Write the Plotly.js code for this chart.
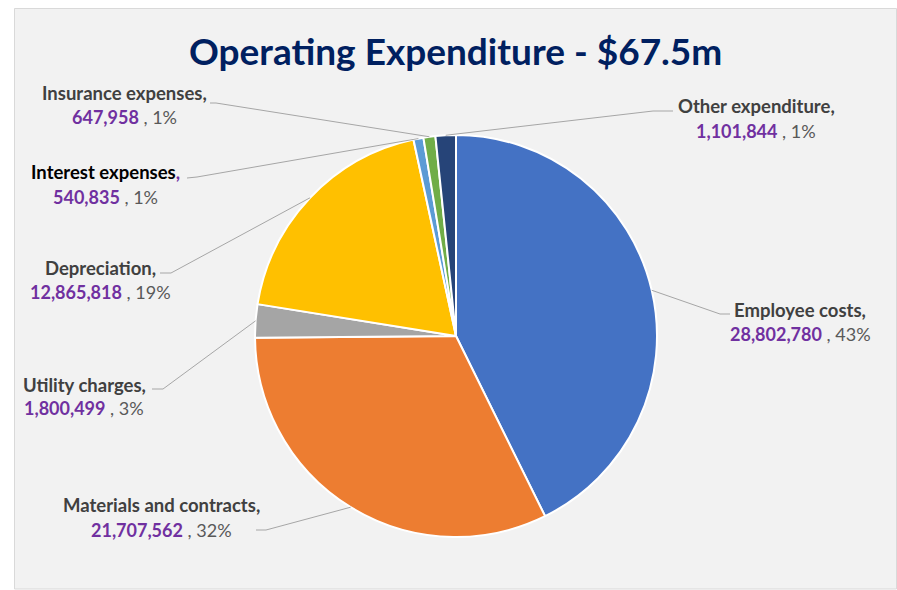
<!DOCTYPE html>
<html>
<head>
<meta charset="utf-8">
<script src="https://cdn.plot.ly/plotly-3.0.1.min.js"></script>
<style>html,body{margin:0;padding:0;background:#fff;}#chart{width:897px;height:590px;}</style>
</head>
<body>
<div id="chart"></div>
<script>
// ---- data ----
const categories = ["Employee costs", "Materials and contracts", "Utility charges", "Depreciation", "Interest expenses", "Insurance expenses", "Other expenditure"];
const values = [28802780, 21707562, 1800499, 12865818, 540835, 647958, 1101844];
const valueLabels = ["28,802,780", "21,707,562", "1,800,499", "12,865,818", "540,835", "647,958", "1,101,844"];
const percentLabels = ["43%", "32%", "3%", "19%", "1%", "1%", "1%"];
const titleText = "Operating Expenditure - $67.5m";

// ---- style / layout ----
const colors = ["#4472C4", "#ED7D31", "#A5A5A5", "#FFC000", "#5B9BD5", "#70AD47", "#264478"];
const W = 897, H = 590;
const CX = 456, CY = 336, R = 201;
const FONT = "Lato, 'Open Sans', sans-serif";
// label placement: centre x, line1 y, line2 y, leader elbow and end (pixels)
const labelPos = [
  {x: 800, y1: 310, y2: 334, elbow: [720, 314], end: [730, 314]},
  {x: 161, y1: 505, y2: 530, elbow: [266, 530], end: [256, 530]},
  {x: 84,  y1: 385, y2: 408, elbow: [163, 389], end: [152, 389]},
  {x: 100, y1: 268, y2: 292, elbow: [171, 273], end: [160, 273]},
  {x: 105, y1: 172, y2: 197, elbow: [197, 177], end: [187, 178]},
  {x: 124, y1: 93,  y2: 117, elbow: [216, 103], end: [210, 103]},
  {x: 756, y1: 106, y2: 131, elbow: [653, 111], end: [673, 111]}
];
const nameColors = ["#404040", "#404040", "#404040", "#404040", "#000000", "#404040", "#404040"];

const px = v => v / W;
const py = v => 1 - v / H;

const total = values.reduce((a, b) => a + b, 0);
let cum = 0;
const shapes = [{
  type: "rect", xref: "paper", yref: "paper", layer: "below",
  x0: px(14.5), x1: px(896.5), y0: py(589), y1: py(8.5),
  fillcolor: "#F2F2F2", line: {color: "#D9D9D9", width: 1}
}];
const annotations = [{
  xref: "paper", yref: "paper", x: px(455), y: py(51), xanchor: "center", yanchor: "middle",
  showarrow: false, text: "<b>" + titleText + "</b>",
  font: {family: FONT, size: 37, color: "#002060"}
}];

values.forEach((v, i) => {
  const mid = (cum + v / 2) / total;
  cum += v;
  const th = 2 * Math.PI * mid;
  const ex = CX + R * Math.sin(th), ey = CY - R * Math.cos(th);
  const L = labelPos[i];
  shapes.push({
    type: "path", xref: "paper", yref: "paper", layer: "above",
    path: `M ${px(ex)} ${py(ey)} L ${px(L.elbow[0])} ${py(L.elbow[1])} L ${px(L.end[0])} ${py(L.end[1])}`,
    line: {color: "#A6A6A6", width: 1}
  });
  let nameTxt = `<b><span style="color:${nameColors[i]}">${categories[i]}</span>`;
  nameTxt += (i === 4) ? `<span style="color:#7030A0">,</span></b>` : `<span style="color:${nameColors[i]}">,</span></b>`;
  annotations.push({
    xref: "paper", yref: "paper", x: px(L.x), y: py(L.y1), xanchor: "center", yanchor: "middle",
    showarrow: false, text: nameTxt, font: {family: FONT, size: 18.5, color: "#404040"}
  });
  annotations.push({
    xref: "paper", yref: "paper", x: px(L.x), y: py(L.y2), xanchor: "center", yanchor: "middle",
    showarrow: false,
    text: `<b><span style="color:#7030A0">${valueLabels[i]}</span></b><span style="color:#595959"> , ${percentLabels[i]}</span>`,
    font: {family: FONT, size: 18, color: "#595959"}
  });
});

const trace = {
  type: "pie",
  labels: categories,
  values: values,
  sort: false,
  direction: "clockwise",
  rotation: 0,
  textinfo: "none",
  hoverinfo: "label+value+percent",
  marker: {colors: colors, line: {color: "#FFFFFF", width: 2}},
  domain: {x: [px(CX - R), px(CX + R)], y: [py(CY + R), py(CY - R)]},
  showlegend: false
};

const layout = {
  width: W, height: H,
  margin: {l: 0, r: 0, t: 0, b: 0},
  paper_bgcolor: "#FFFFFF",
  showlegend: false,
  shapes: shapes,
  annotations: annotations
};

Plotly.newPlot("chart", [trace], layout, {displayModeBar: false, staticPlot: true});
</script>
</body>
</html>
